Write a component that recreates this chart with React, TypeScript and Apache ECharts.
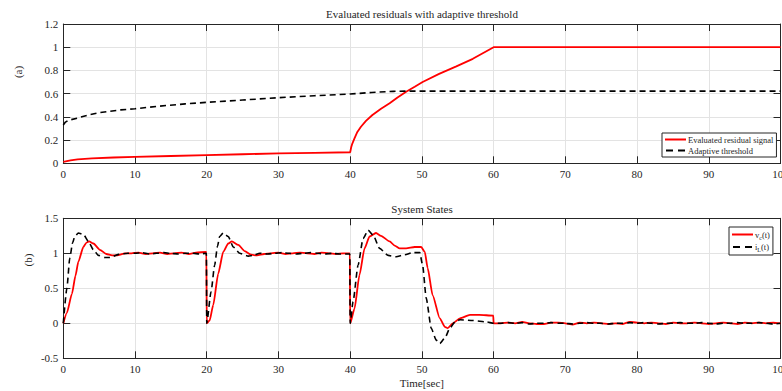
import React, { useEffect, useRef } from "react";
import * as echarts from "echarts";

const titleTop = "Evaluated residuals with adaptive threshold";
const titleBottom = "System States";
const xName = "Time[sec]";
const legendTop = ["Evaluated residual signal", "Adaptive threshold"];
const legendBottom = ["vc", "iL"];

const residualData: [number, number][] = [
  [0, 0.012], [1, 0.025], [2, 0.034], [4, 0.042], [7, 0.05], [10, 0.055], [15, 0.063],
  [20, 0.071], [25, 0.078], [30, 0.085], [35, 0.09], [40, 0.095], [40.15, 0.14], [40.3, 0.17],
  [40.6, 0.215], [41, 0.27], [41.5, 0.315], [42.2, 0.365], [43.1, 0.416], [44.3, 0.47],
  [45.5, 0.517], [46.6, 0.567], [47.8, 0.617], [49, 0.66], [50.1, 0.7], [52.4, 0.77],
  [54.8, 0.835], [57.1, 0.9], [60, 1.0], [100, 1.0],
];

const thresholdData: [number, number][] = [
  [0, 0.33], [0.3, 0.355], [0.7, 0.37], [2, 0.39], [3.5, 0.416], [5, 0.436], [8, 0.46],
  [10, 0.47], [13, 0.49], [17, 0.512], [20, 0.525], [25, 0.545], [30, 0.565], [35, 0.582],
  [40, 0.597], [43, 0.61], [46, 0.62], [48, 0.622], [100, 0.622],
];

const vcData: [number, number][] = [
  [0, 0], [0.5, 0.15], [1.2, 0.42], [1.7, 0.68], [2.1, 0.88], [2.8, 1.09], [3.2, 1.15],
  [3.6, 1.17], [4.2, 1.14], [5.1, 1.05], [6.0, 0.99], [6.8, 0.97], [7.5, 0.97], [8.6, 1.0],
  [9.5, 1.0], [10.5, 1.01], [11.5, 0.99], [12.5, 1.0], [13.5, 1.01], [14.5, 0.99],
  [15.5, 1.0], [16.5, 1.01], [17.5, 0.99], [18.5, 1.01], [19.95, 1.02], [20, 0],
  [20.4, 0.04], [20.9, 0.26], [21.6, 0.71], [22.3, 1.02], [23.0, 1.14], [23.5, 1.17],
  [24.4, 1.12], [25.3, 1.03], [26.2, 0.98], [27, 0.97], [28, 0.99], [29, 1.0], [30, 1.01],
  [31, 0.99], [32, 1.0], [33, 1.01], [34, 1.0], [35, 0.99], [36, 1.01], [37, 1.0],
  [38, 0.99], [39, 1.0], [39.95, 1.0], [40, 0], [40.6, 0.21], [41.3, 0.69], [42.0, 1.07],
  [42.7, 1.24], [43.6, 1.29], [44.3, 1.25], [45.5, 1.17], [46.2, 1.11], [46.9, 1.07],
  [47.8, 1.07], [49.0, 1.09], [49.9, 1.09], [50.4, 1.02], [50.8, 0.79], [51.5, 0.4],
  [52.5, 0.07], [53.2, -0.05], [53.6, -0.07], [54.3, 0.0], [55.3, 0.07], [56.7, 0.12],
  [58, 0.12], [59.95, 0.11], [60, 0], [61, 0.0], [62, 0.01], [63, 0.0], [64, 0.02],
  [65, 0.0], [66, -0.01], [67, -0.01], [68, 0.01], [69, 0.01], [70, 0.0], [71, -0.02],
  [72, 0.01], [73, 0.0], [74, 0.01], [75, 0.0], [76, -0.01], [77, 0.0], [78, -0.01],
  [79, 0.02], [80, 0.01], [81, 0.0], [82, 0.01], [83, 0.0], [84, -0.01], [85, 0.01],
  [86, 0.0], [87, 0.0], [88, 0.01], [89, 0.0], [90, -0.01], [91, 0.0], [92, 0.01],
  [93, 0.0], [94, -0.01], [95, 0.01], [96, 0.0], [97, 0.01], [98, 0.0], [99, 0.01],
  [100, 0.0],
];

const iLData: [number, number][] = [
  [0, 0], [0.5, 0.5], [0.9, 0.93], [1.3, 1.15], [1.6, 1.24], [2.1, 1.29], [2.8, 1.27],
  [3.5, 1.17], [4.2, 1.05], [4.9, 0.97], [5.8, 0.94], [6.5, 0.94], [7.7, 0.985], [9, 1.0],
  [10, 1.0], [11, 1.01], [12, 0.99], [13, 1.0], [14, 1.01], [15, 1.0], [16, 0.99], [17, 1.0],
  [18, 1.0], [19, 0.99], [19.95, 1.0], [20, 0], [20.6, 0.45], [21.1, 0.83], [21.5, 1.1],
  [21.8, 1.24], [22.3, 1.29], [23.0, 1.24], [23.7, 1.09], [24.6, 1.0], [25.8, 0.96],
  [26.5, 0.97], [27.4, 1.0], [28.5, 0.99], [29.5, 1.0], [30.5, 1.01], [31.5, 1.0],
  [32.5, 0.99], [33.5, 1.0], [34.5, 1.01], [35.5, 1.0], [36.5, 0.99], [37.5, 1.0],
  [38.5, 0.99], [39.95, 0.99], [40, 0], [40.4, 0.31], [41.1, 0.83], [41.8, 1.21],
  [42.5, 1.33], [43.2, 1.26], [44.1, 1.07], [45.3, 0.97], [46.4, 0.95], [47.6, 0.98],
  [48.7, 1.01], [49.7, 1.01], [50.1, 0.83], [50.6, 0.36], [51.3, -0.07], [52.0, -0.24],
  [52.5, -0.29], [53.2, -0.21], [53.9, -0.07], [54.6, 0.02], [55.3, 0.05], [57.1, 0.04],
  [59, 0.02], [60, 0.0], [61, 0.0], [62, 0.01], [63, 0.0], [64, 0.01], [65, -0.01],
  [66, 0.0], [67, 0.0], [68, 0.01], [69, 0.0], [70, 0.0], [71, -0.01], [72, 0.0],
  [73, 0.01], [74, 0.0], [75, 0.0], [76, -0.01], [77, 0.0], [78, 0.0], [79, 0.01],
  [80, 0.0], [81, 0.01], [82, 0.0], [83, -0.01], [84, 0.0], [85, 0.0], [86, 0.01],
  [87, 0.0], [88, 0.0], [89, 0.01], [90, 0.0], [91, -0.01], [92, 0.0], [93, 0.0],
  [94, 0.01], [95, 0.0], [96, 0.0], [97, 0.01], [98, 0.0], [99, -0.01], [100, 0.0],
];

const FONT = "Liberation Serif, Times New Roman, serif";
const AX = "#262626";
const GRIDC = "#e3e3e3";
const SOLID_ICON = "path://M0,0H21V2H0Z";
const DASH_ICON = "path://M0,0H7V2H0Z M12,0H19V2H12Z";

function fmt(v: number) {
  return String(+v.toFixed(1));
}

export default function App() {
  const ref = useRef<HTMLDivElement>(null);
  useEffect(() => {
    document.body.style.margin = "0";
    const chart = echarts.init(ref.current!, null, { renderer: "svg", width: 782, height: 391 });
    const grids = [
      { left: 63.3, top: 24, right: 1.5, bottom: 391 - 163.3, outerBoundsMode: "none", containLabel: false },
      { left: 63.3, top: 218.3, right: 1.5, bottom: 391 - 358.3, outerBoundsMode: "none", containLabel: false },
    ];
    const mkX = (gi: number, main: boolean) => ({
      type: "value",
      gridIndex: gi,
      min: 0,
      max: 100,
      interval: 10,
      position: main ? "bottom" : "top",
      axisLine: { show: true, onZero: false, lineStyle: { color: AX, width: 1 } },
      axisTick: { show: true, inside: true, length: 7, lineStyle: { color: AX } },
      axisLabel: main
        ? { show: true, color: AX, fontFamily: FONT, fontSize: 11, margin: 5 }
        : { show: false },
      splitLine: main ? { show: true, lineStyle: { color: GRIDC, width: 1 } } : { show: false },
      ...(main && gi === 1
        ? {
            name: xName,
            nameLocation: "middle",
            nameGap: 19,
            nameTextStyle: { color: AX, fontFamily: FONT, fontSize: 11 },
          }
        : {}),
    });
    const mkY = (gi: number, main: boolean, min: number, max: number, interval: number) => ({
      type: "value",
      gridIndex: gi,
      min,
      max,
      interval,
      position: main ? "left" : "right",
      axisLine: { show: true, onZero: false, lineStyle: { color: AX, width: 1 } },
      axisTick: { show: true, inside: true, length: 7, lineStyle: { color: AX } },
      axisLabel: main
        ? { show: true, color: AX, fontFamily: FONT, fontSize: 11, margin: 5, formatter: fmt }
        : { show: false },
      splitLine: main ? { show: true, lineStyle: { color: GRIDC, width: 1 } } : { show: false },
    });
    const legendBase = {
      orient: "vertical",
      itemGap: 2,
      itemWidth: 21,
      itemHeight: 2,
      borderColor: AX,
      borderWidth: 1,
      borderRadius: 0,
      backgroundColor: "#ffffff",
    };

    const option: any = {
      animation: false,
      backgroundColor: "#ffffff",
      title: [
        {
          text: titleTop,
          left: 422,
          top: 8,
          padding: 0,
          textAlign: "center",
          textStyle: { color: AX, fontFamily: FONT, fontSize: 11, fontWeight: "normal" },
        },
        {
          text: titleBottom,
          left: 422,
          top: 203,
          padding: 0,
          textAlign: "center",
          textStyle: { color: AX, fontFamily: FONT, fontSize: 11, fontWeight: "normal" },
        },
      ],
      grid: grids,
      xAxis: [mkX(0, true), mkX(0, false), mkX(1, true), mkX(1, false)],
      yAxis: [
        mkY(0, true, 0, 1.2, 0.2),
        mkY(0, false, 0, 1.2, 0.2),
        mkY(1, true, -0.5, 1.5, 0.5),
        mkY(1, false, -0.5, 1.5, 0.5),
      ],
      legend: [
        {
          ...legendBase,
          data: [
            { name: legendTop[0], icon: SOLID_ICON },
            { name: legendTop[1], icon: DASH_ICON },
          ],
          left: 662,
          top: 133,
          padding: [2, 3, 2, 3],
          textStyle: { color: AX, fontFamily: FONT, fontSize: 8.5, padding: [0, 0, 0, -3] },
        },
        {
          ...legendBase,
          data: [
            { name: legendBottom[0], icon: SOLID_ICON },
            { name: legendBottom[1], icon: DASH_ICON },
          ],
          left: 729,
          top: 227,
          padding: [3, 3, 2, 3],
          formatter: (name: string) =>
            name === "vc" ? "{m|v}{s|c}{m|(t)}" : "{m|i}{s|L}{m|(t)}",
          textStyle: {
            color: AX,
            fontFamily: FONT,
            fontSize: 8.5,
            padding: [0, 0, 0, -3],
            rich: {
              m: { fontFamily: FONT, fontSize: 8.5, color: AX },
              s: { fontFamily: FONT, fontSize: 6, color: AX, padding: [6, 0, 0, 0] },
            },
          },
        },
      ],
      graphic: [
        {
          type: "text",
          x: 18,
          y: 72,
          rotation: Math.PI / 2,
          style: {
            text: "(a)",
            fill: AX,
            font: `11px ${FONT}`,
            align: "center",
            verticalAlign: "middle",
          },
        },
        {
          type: "text",
          x: 28,
          y: 260,
          rotation: Math.PI / 2,
          style: {
            text: "(b)",
            fill: AX,
            font: `11px ${FONT}`,
            align: "center",
            verticalAlign: "middle",
          },
        },
      ],
      series: [
        {
          name: legendTop[0],
          type: "line",
          xAxisIndex: 0,
          yAxisIndex: 0,
          data: residualData,
          showSymbol: false,
          symbol: "none",
          lineStyle: { color: "#ff0000", width: 1.8 },
          itemStyle: { color: "#ff0000" },
        },
        {
          name: legendTop[1],
          type: "line",
          xAxisIndex: 0,
          yAxisIndex: 0,
          data: thresholdData,
          showSymbol: false,
          symbol: "none",
          lineStyle: { color: "#000000", width: 1.6, type: [6, 4] },
          itemStyle: { color: "#000000" },
        },
        {
          name: legendBottom[0],
          type: "line",
          xAxisIndex: 2,
          yAxisIndex: 2,
          data: vcData,
          showSymbol: false,
          symbol: "none",
          smooth: 0.2,
          smoothMonotone: "x",
          lineStyle: { color: "#ff0000", width: 1.8 },
          itemStyle: { color: "#ff0000" },
        },
        {
          name: legendBottom[1],
          type: "line",
          xAxisIndex: 2,
          yAxisIndex: 2,
          data: iLData,
          showSymbol: false,
          symbol: "none",
          smooth: 0.2,
          smoothMonotone: "x",
          lineStyle: { color: "#000000", width: 1.6, type: [6, 4] },
          itemStyle: { color: "#000000" },
        },
      ],
    };
    chart.setOption(option);
    return () => chart.dispose();
  }, []);
  return <div ref={ref} style={{ width: 782, height: 391 }} />;
}
